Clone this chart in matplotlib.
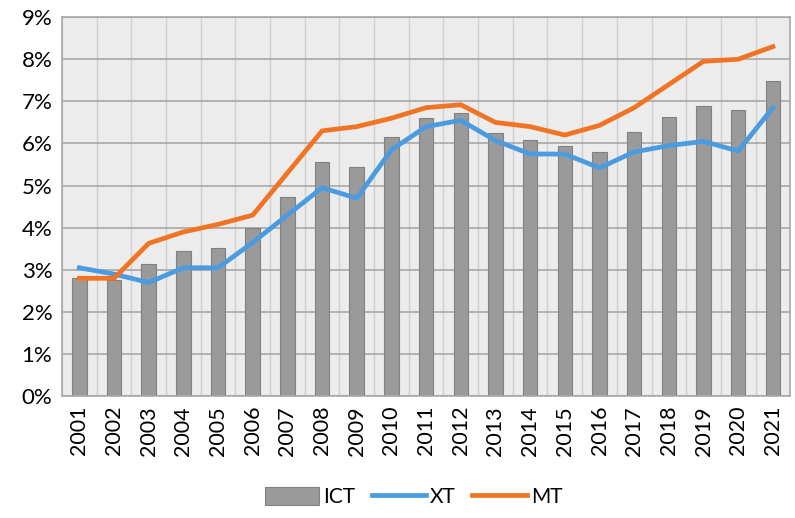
import matplotlib.pyplot as plt
import numpy as np

#----Data----

years = [str(y) for y in range(2001, 2022)]
ict = [2.80, 2.75, 3.15, 3.45, 3.52, 4.00, 4.72, 5.57, 5.45, 6.15, 6.60,
       6.72, 6.25, 6.08, 5.95, 5.80, 6.27, 6.62, 6.90, 6.80, 7.48]
xt = [3.05, 2.90, 2.70, 3.05, 3.05, 3.65, 4.30, 4.95, 4.70, 5.85, 6.40,
      6.55, 6.07, 5.75, 5.75, 5.42, 5.80, 5.95, 6.05, 5.82, 6.85]
mt = [2.80, 2.80, 3.63, 3.90, 4.08, 4.30, 5.30, 6.30, 6.40, 6.60, 6.85,
      6.92, 6.50, 6.40, 6.20, 6.43, 6.85, 7.40, 7.95, 8.00, 8.30]
y_ticks = list(range(0, 10))

#----Plotting----

plt.rcParams['font.family'] = ['Lato', 'DejaVu Sans']

fig, ax = plt.subplots(figsize=(7.95, 5.18), dpi=100)
fig.subplots_adjust(left=0.078, right=0.994, top=0.967, bottom=0.235)

x = np.arange(len(years))
ax.set_facecolor("#ececec")
b = ax.bar(x, ict, width=0.42, color="#9a9a9a", edgecolor="#808080", linewidth=0.8,
           label="ICT", zorder=2)
l1, = ax.plot(x, xt, color="#4a9be0", linewidth=3.4, label="XT", zorder=3)
l2, = ax.plot(x, mt, color="#f07424", linewidth=3.4, label="MT", zorder=4)

ax.set_xlim(-0.5, len(years) - 0.5)
ax.set_ylim(0, 9)
ax.set_yticks(y_ticks)
ax.set_yticklabels([f"{t}%" for t in y_ticks], fontsize=16)
ax.set_xticks(x)
ax.set_xticklabels(years, rotation=90, fontsize=15.5)
ax.set_xticks(np.arange(-0.5, len(years)), minor=True)

ax.grid(axis="y", which="major", color="#a8a8a8", linewidth=1.2, zorder=1)
ax.grid(axis="x", which="minor", color="#d0d0d0", linewidth=1.0, zorder=1)
ax.tick_params(axis="both", which="both", length=0, pad=7)
for s in ax.spines.values():
    s.set_color("#a8a8a8")
    s.set_linewidth(1.2)

fig.legend([b, l1, l2], ["ICT", "XT", "MT"], loc="center", bbox_to_anchor=(0.52, 0.04),
           ncol=3, frameon=False, fontsize=15, handlelength=2.6, handleheight=0.9,
           columnspacing=0.8, handletextpad=0.2)

plt.savefig("out.png", dpi=100)
